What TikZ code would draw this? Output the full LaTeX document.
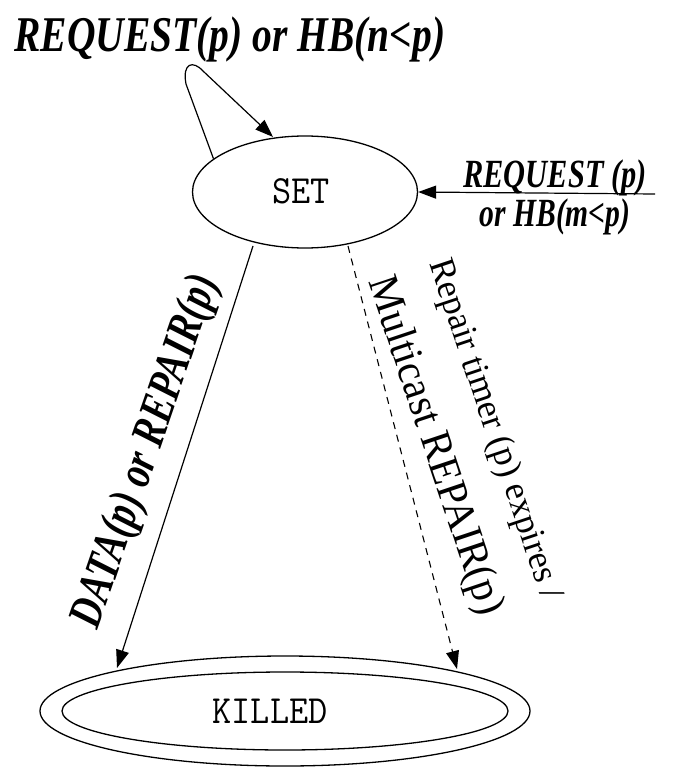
\documentclass[tikz,border=0pt]{standalone}
\usepackage{fontspec}
\setmainfont{Liberation Serif}
\usetikzlibrary{shapes.geometric,arrows.meta}
\begin{document}
\begin{tikzpicture}[x=1pt,y=-1pt,
  st/.style={draw, ellipse, line width=1.3pt, inner sep=0pt},
  arr/.style={line width=1.2pt, -{Triangle[length=18pt,width=13pt]}},
  bi/.style={font=\bfseries\itshape},
  stt/.style={font=\ttfamily\fontsize{40}{44}\selectfont},
]
\useasboundingbox (0,0) rectangle (673,767);
% states
\node[st, minimum width=225, minimum height=112] (set) at (305,192) {};
\node[stt] (settxt) at (301,191) {\scalebox{0.93}[1]{SET}};
\node[st, minimum width=490, minimum height=110] (kout) at (285,711) {};
\node[st, minimum width=446, minimum height=78] (kin) at (285,711) {};
\node[stt] (ktxt) at (270,711) {\scalebox{0.93}[1]{KILLED}};
% connectors
\coordinate (loopend) at (273,137);
\coordinate (loopl) at (186,84);
\coordinate (loopr) at (203,71);
\draw[arr] (set.160) -- (loopl) .. controls (182,63) and (193,60) .. (loopr) -- (loopend);
\coordinate (rin) at (655,194);
\draw[arr] (rin) -- (set.east);
\coordinate (la) at (253,246);
\coordinate (lb) at (117,668);
\draw[arr] (la) -- (lb);
\coordinate (da) at (348,246);
\coordinate (db) at (457,669);
\draw[arr, dash pattern=on 7pt off 6pt, line width=1.1pt] (da) -- (db);
% labels
\node[bi, font=\bfseries\itshape\fontsize{50}{56}\selectfont, anchor=base] (ltop) at (230,52) {\scalebox{0.79}[1]{REQUEST(p) or HB(n<p)}};
\node[bi, font=\bfseries\itshape\fontsize{40}{46}\selectfont, anchor=base] (lr1) at (555,188) {\scalebox{0.76}[1]{REQUEST (p)}};
\node[bi, font=\bfseries\itshape\fontsize{40}{46}\selectfont, anchor=base] (lr2) at (555,226) {\scalebox{0.74}[1]{or HB(m<p)}};
\node[bi, font=\bfseries\itshape\fontsize{48}{54}\selectfont, rotate=71] (ll) at (147,452) {\scalebox{0.78}[1]{DATA(p) or REPAIR(p)}};
\node[font=\fontsize{36}{40}\selectfont, rotate=-71.5] (ld1) at (494,430) {\scalebox{0.98}[1]{Repair timer (p) expires /}};
\node[font=\fontsize{43}{48}\selectfont, rotate=-71.5] (ld2) at (434,446) {\scalebox{0.95}[1]{Multicast REPAIR(p)}};
\end{tikzpicture}
\end{document}
